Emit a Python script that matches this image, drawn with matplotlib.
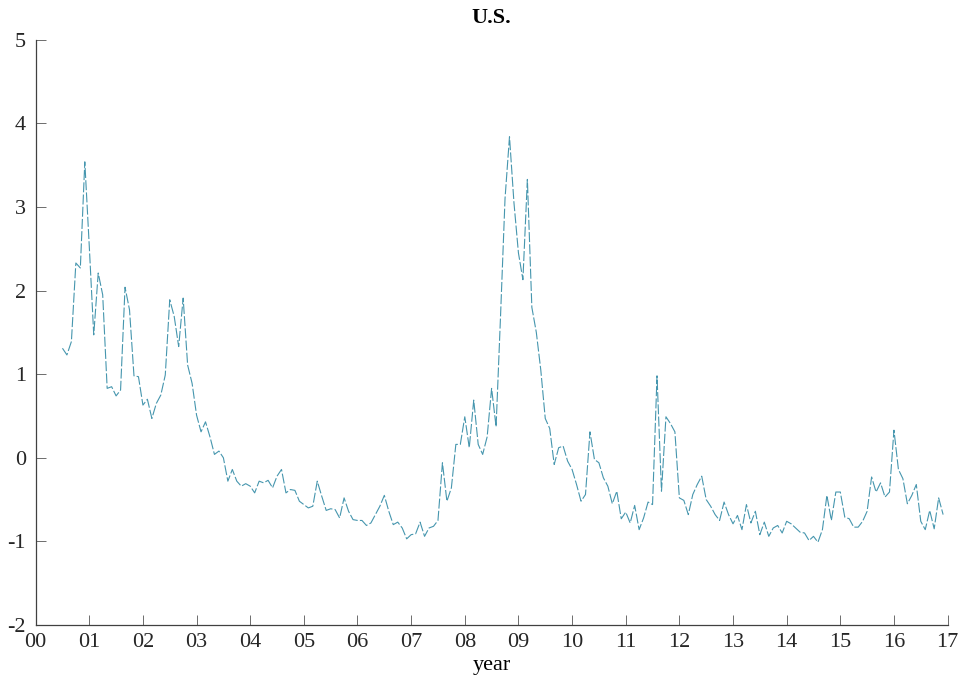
import numpy as np
import matplotlib
matplotlib.use("Agg")
import matplotlib.pyplot as plt

# monthly values, Jul 2000 .. Dec 2016
v2000 = [1.31, 1.23, 1.39, 2.33, 2.27, 3.54]
v2001 = [2.53, 1.47, 2.21, 1.95, 0.83, 0.85, 0.74, 0.81, 2.04, 1.77, 0.98, 0.97]
v2002 = [0.63, 0.70, 0.47, 0.65, 0.75, 0.99, 1.89, 1.69, 1.33, 1.91, 1.11, 0.89]
v2003 = [0.51, 0.31, 0.43, 0.25, 0.04, 0.08, 0.00, -0.28, -0.14, -0.28, -0.34, -0.31]
v2004 = [-0.34, -0.42, -0.28, -0.30, -0.27, -0.36, -0.22, -0.14, -0.42, -0.38, -0.39, -0.52]
v2005 = [-0.56, -0.60, -0.58, -0.28, -0.46, -0.63, -0.61, -0.62, -0.72, -0.48, -0.64, -0.74]
v2006 = [-0.75, -0.75, -0.81, -0.78, -0.68, -0.58, -0.45, -0.64, -0.80, -0.77, -0.84, -0.97]
v2007 = [-0.92, -0.91, -0.77, -0.94, -0.84, -0.82, -0.75, -0.06, -0.52, -0.36, 0.16, 0.16]
v2008 = [0.49, 0.12, 0.69, 0.16, 0.04, 0.25, 0.83, 0.37, 1.70, 3.10, 3.84, 3.05]
v2009 = [2.45, 2.13, 3.33, 1.80, 1.50, 1.05, 0.47, 0.35, -0.08, 0.12, 0.14, -0.04]
v2010 = [-0.14, -0.32, -0.52, -0.44, 0.31, -0.02, -0.06, -0.24, -0.34, -0.55, -0.40, -0.73]
v2011 = [-0.65, -0.78, -0.57, -0.86, -0.72, -0.53, -0.56, 0.98, -0.40, 0.49, 0.41, 0.31]
v2012 = [-0.48, -0.51, -0.68, -0.44, -0.32, -0.22, -0.50, -0.58, -0.68, -0.75, -0.53, -0.68]
v2013 = [-0.79, -0.69, -0.86, -0.56, -0.78, -0.64, -0.92, -0.77, -0.94, -0.84, -0.81, -0.90]
v2014 = [-0.76, -0.79, -0.84, -0.89, -0.90, -0.99, -0.94, -1.01, -0.86, -0.45, -0.75, -0.41]
v2015 = [-0.41, -0.71, -0.73, -0.83, -0.83, -0.76, -0.64, -0.23, -0.41, -0.30, -0.47, -0.41]
v2016 = [0.33, -0.14, -0.25, -0.55, -0.45, -0.32, -0.76, -0.86, -0.63, -0.85, -0.48, -0.68]

values = (v2000 + v2001 + v2002 + v2003 + v2004 + v2005 + v2006 + v2007 + v2008
          + v2009 + v2010 + v2011 + v2012 + v2013 + v2014 + v2015 + v2016)
start_year = 0.5  # July 2000, years counted from 2000
t = start_year + np.arange(len(values)) / 12.0

xticks = list(range(0, 18))
xlabels = ["%02d" % k for k in xticks]
yticks = list(range(-2, 6))

plt.rcParams['font.family'] = ['Liberation Serif', 'DejaVu Serif']
plt.rcParams['axes.unicode_minus'] = False

fig = plt.figure(figsize=(9.63, 6.86), dpi=100)
ax = fig.add_axes([0.037, 0.089, 0.947, 0.853])

ax.plot(t, values, color='#4696ae', lw=0.8, linestyle=(0, (9, 2)))

ax.set_xlim(0, 17)
ax.set_ylim(-2, 5)
ax.set_xticks(xticks)
ax.set_xticklabels(xlabels)
ax.set_yticks(yticks)

for s in ['top', 'right']:
    ax.spines[s].set_visible(False)
for s in ['left', 'bottom']:
    ax.spines[s].set_color('#404040')
    ax.spines[s].set_linewidth(0.9)

ax.tick_params(direction='in', length=7, width=0.6, colors='#555555',
               labelsize=16, labelcolor='#262626')
ax.tick_params(axis='x', pad=6)
ax.tick_params(axis='y', pad=7)

ax.set_title('U.S.', fontsize=16, fontweight='bold', pad=12)
ax.set_xlabel('year', fontsize=16, labelpad=3)

fig.savefig('out.png', dpi=100)
